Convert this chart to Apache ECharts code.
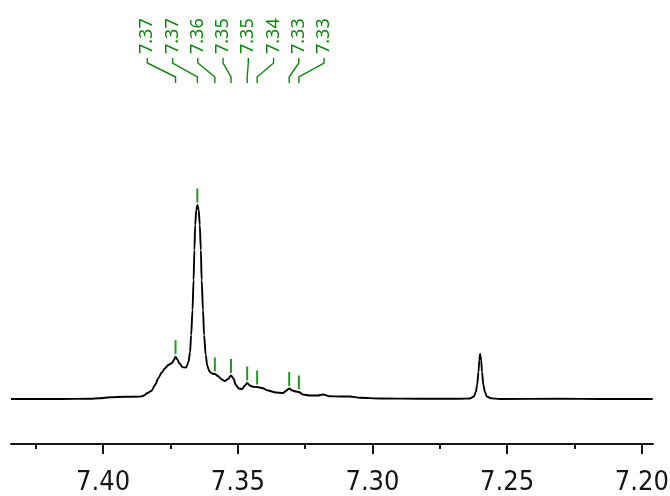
<!DOCTYPE html>
<html><head><meta charset="utf-8">
<script src="https://cdn.jsdelivr.net/npm/echarts@6/dist/echarts.min.js"></script>
<style>html,body{margin:0;padding:0;background:#fff}#c{width:670px;height:496px}</style>
</head><body><div id="c"></div>
<script>
// Chemical shift (ppm) and intensity (arbitrary units) of the spectrum trace
const shiftPpm = [7.4342, 7.4160, 7.4049, 7.4012, 7.3974, 7.3919, 7.3863, 7.3848, 7.3837, 7.3820,
  7.3807, 7.3795, 7.3783, 7.3770, 7.3758, 7.3745, 7.3737, 7.3731, 7.3724, 7.3717,
  7.3705, 7.3692, 7.3683, 7.3677, 7.3673, 7.3668, 7.3664, 7.3661, 7.3658, 7.3654,
  7.3650, 7.3645, 7.3641, 7.3637, 7.3634, 7.3629, 7.3625, 7.3619, 7.3613, 7.3605,
  7.3596, 7.3585, 7.3574, 7.3559, 7.3548, 7.3536, 7.3525, 7.3516, 7.3507, 7.3496,
  7.3484, 7.3473, 7.3465, 7.3455, 7.3444, 7.3428, 7.3410, 7.3388, 7.3358, 7.3332,
  7.3319, 7.3309, 7.3297, 7.3284, 7.3273, 7.3258, 7.3232, 7.3202, 7.3184, 7.3158,
  7.3121, 7.3083, 7.3046, 7.2972, 7.2824, 7.2675, 7.2638, 7.2623, 7.2616, 7.2611,
  7.2606, 7.2603, 7.2600, 7.2596, 7.2593, 7.2588, 7.2582, 7.2575, 7.2560, 7.2527,
  7.2304, 7.2155, 7.1959];
const intensity = [0, 0, 0.2, 0.7, 1.7, 2.2, 2.4, 3.5, 5.7, 8.3,
  14, 20.7, 26.3, 30.7, 34, 35.7, 39, 42.3, 39.5, 35.7,
  31.7, 31.5, 37, 47, 64, 89, 119, 149, 174, 189,
  194, 189, 174, 149, 119, 89, 64, 44, 33, 27.5,
  25.5, 25, 23, 19.5, 18, 20, 23.5, 20.5, 14, 10.5,
  10, 13.5, 16, 13.5, 12.2, 12, 11, 8.5, 6.5, 6,
  8.5, 10.5, 8.5, 7.5, 7, 4.5, 3.5, 3.5, 4.5, 2.7,
  2.5, 2.5, 1.2, 0.5, 0.2, 0.2, 0.5, 2.5, 7, 14,
  27, 39, 45, 39, 27, 14, 7, 2.5, 0.7, 0,
  0.2, 0, 0];
// Picked peaks
const peakPpm = [7.3731, 7.3650, 7.3585, 7.3525, 7.3465, 7.3428, 7.3309, 7.3273];
const peakHeight = [42.3, 194, 25, 23.5, 16, 12, 10.5, 7];
const peakLabels = ['7.37', '7.37', '7.36', '7.35', '7.35', '7.34', '7.33', '7.33'];

const GREEN_TXT = '#0b880b';
const GREEN_TICK = '#1f9a1f';
const INK = '#161616';

const chart = echarts.init(document.getElementById('c'), null, {renderer: 'canvas'});
chart.setOption({
  animation: false,
  backgroundColor: '#ffffff',
  grid: [
    {left: 11, right: 17, top: 0, bottom: 52, outerBoundsMode: 'none', containLabel: false},
    {left: -31.56, width: 808.06, top: 400, bottom: 52, outerBoundsMode: 'none', containLabel: false}
  ],
  xAxis: [
    {gridIndex: 0, type: 'value', inverse: true, min: 7.1958, max: 7.4342,
      axisLine: {show: true, onZero: false, lineStyle: {color: INK, width: 2}},
      axisTick: {show: false}, axisLabel: {show: false}, splitLine: {show: false}},
    {gridIndex: 1, type: 'value', inverse: true, min: 7.15, max: 7.45, interval: 0.05,
      axisLine: {show: false},
      axisTick: {show: true, length: 10, lineStyle: {color: INK, width: 2}},
      minorTick: {show: true, splitNumber: 2, length: 5, lineStyle: {color: INK, width: 2}},
      axisLabel: {margin: 25, fontSize: 27, fontFamily: '"Liberation Sans Narrow", "DejaVu Sans Condensed", "Noto Sans", sans-serif', color: INK,
        formatter: v => v.toFixed(2)},
      splitLine: {show: false}, minorSplitLine: {show: false}}
  ],
  yAxis: [
    {gridIndex: 0, type: 'value', min: -45, max: 399, show: false},
    {gridIndex: 1, type: 'value', min: 0, max: 1, show: false}
  ],
  series: [
    {type: 'line', xAxisIndex: 0, yAxisIndex: 0, showSymbol: false, symbol: 'none',
      smooth: 0.3, smoothMonotone: 'x',
      lineStyle: {color: '#000', width: 1.9},
      data: shiftPpm.map((p, i) => [p, intensity[i]])},
    {type: 'custom', xAxisIndex: 0, yAxisIndex: 0,
      data: peakPpm.map((p, i) => [p, peakHeight[i]]),
      renderItem: function (params, api) {
        const pt = api.coord([api.value(0), api.value(1)]);
        return {type: 'line', shape: {x1: pt[0], y1: pt[1] - 2.5, x2: pt[0], y2: pt[1] - 16.5},
          style: {stroke: GREEN_TICK, lineWidth: 2}};
      }},
    {type: 'custom', xAxisIndex: 0, yAxisIndex: 0,
      data: peakPpm.map((p, i) => [p, 0]),
      renderItem: function (params, api) {
        const i = params.dataIndex;
        const xs = peakPpm.map(p => api.coord([p, 0])[0]);
        const mean = xs.reduce((a, b) => a + b, 0) / xs.length;
        const lx = mean - 3.2 + (i - (xs.length - 1) / 2) * 25.24;
        const px = xs[i];
        return {type: 'group', children: [
          {type: 'polyline', shape: {points: [[lx, 58], [lx, 63], [px, 77], [px, 83]]},
            style: {stroke: GREEN_TXT, lineWidth: 1.4, fill: null}},
          {type: 'text', x: lx, y: 54, rotation: Math.PI / 2,
            style: {text: peakLabels[i], fill: GREEN_TXT, font: '18px "Noto Sans"', align: 'left', verticalAlign: 'middle'}}
        ]};
      }}
  ]
});
</script>
</body></html>
